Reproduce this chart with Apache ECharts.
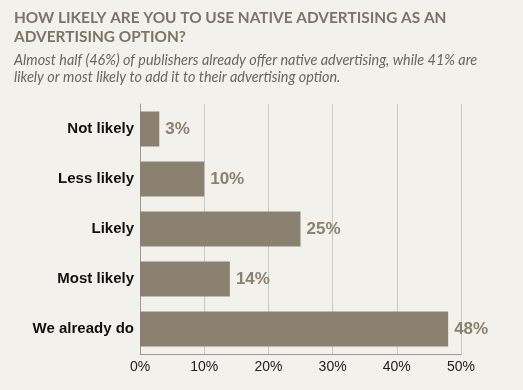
<!DOCTYPE html>
<html><head><meta charset="utf-8">
<script src="https://cdn.jsdelivr.net/npm/echarts@6/dist/echarts.min.js"></script>
<style>html,body{margin:0;padding:0;background:#f2f1ec;}#c{width:523px;height:390px;}</style>
</head><body><div id="c"></div>
<script>
const categories = ['Not likely', 'Less likely', 'Likely', 'Most likely', 'We already do'];
const values = [3, 10, 25, 14, 48];
const tickLabels = ['0%', '10%', '20%', '30%', '40%', '50%'];
const titleLines = ['HOW LIKELY ARE YOU TO USE NATIVE ADVERTISING AS AN', 'ADVERTISING OPTION?'];
const subtitleLines = ['Almost half (46%) of publishers already offer native advertising, while 41% are', 'likely or most likely to add it to their advertising option.'];

const chart = echarts.init(document.getElementById('c'), null, {renderer: 'canvas'});
chart.setOption({
  backgroundColor: '#f2f1ec',
  animation: false,
  title: [
    {text: titleLines.join('\n'), left: 9, top: 4,
     textStyle: {fontFamily: 'Lato', fontWeight: 'bold', fontSize: 15.4, color: '#7b7568', lineHeight: 19}},
    {text: subtitleLines.join('\n'), left: 9, top: 47,
     textStyle: {fontFamily: 'Lato', fontStyle: 'italic', fontWeight: 'normal', fontSize: 14.4, color: '#6a665f', lineHeight: 17}}
  ],
  grid: {left: 140, right: 62, top: 104, bottom: 36, containLabel: false},
  xAxis: {
    type: 'value', min: 0, max: 50, interval: 10,
    axisLine: {show: true, lineStyle: {color: '#9a9a9a', width: 1}},
    axisTick: {show: false},
    splitLine: {show: true, lineStyle: {color: '#c9c9c6', width: 1}},
    axisLabel: {formatter: v => tickLabels[v / 10], fontFamily: 'Liberation Sans', fontSize: 14, color: '#222', margin: 6}
  },
  yAxis: {
    type: 'category', data: categories, inverse: true,
    axisLine: {show: true, lineStyle: {color: '#9a9a9a', width: 1}},
    axisTick: {show: false},
    axisLabel: {fontFamily: 'Liberation Sans', fontWeight: 'bold', fontSize: 15, color: '#111', margin: 6}
  },
  series: [{
    type: 'bar', data: values, barWidth: 35,
    itemStyle: {color: '#8b8170'},
    label: {show: true, position: 'right', distance: 6, formatter: p => p.value + '%',
      fontFamily: 'Liberation Sans', fontWeight: 'bold', fontSize: 17, color: '#8b8170'}
  }]
});
</script></body></html>
